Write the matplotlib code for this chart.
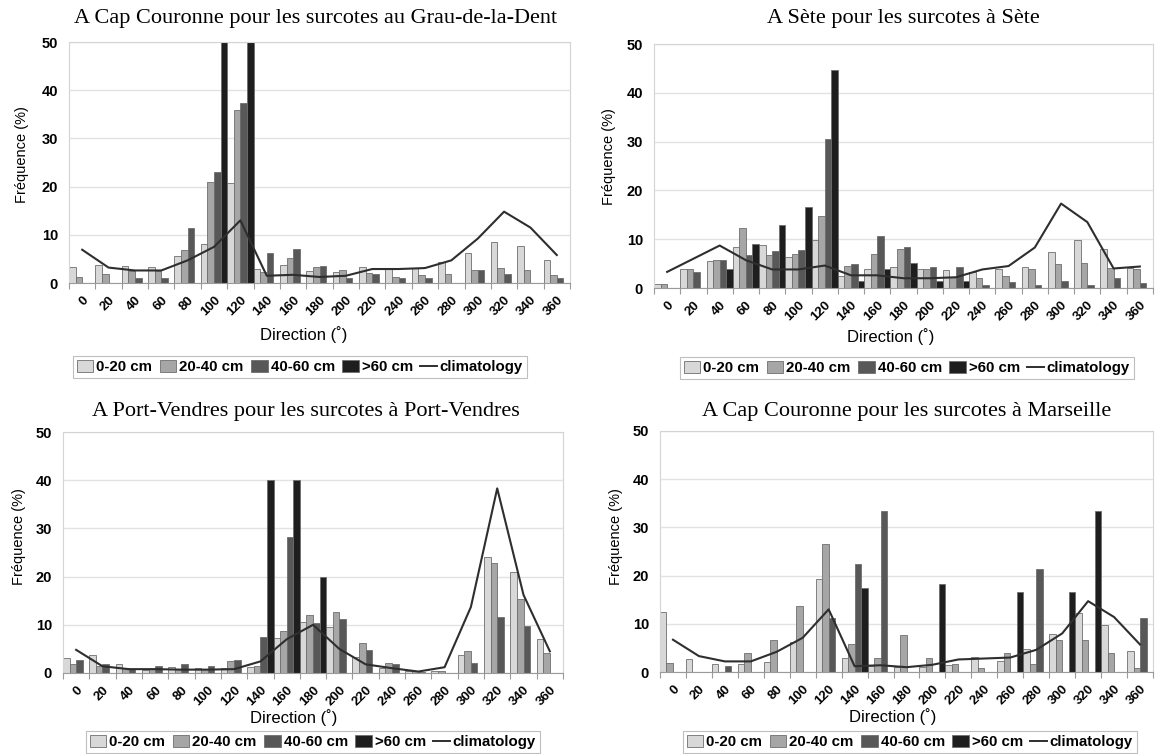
import matplotlib
matplotlib.use('Agg')
import matplotlib.pyplot as plt
import matplotlib.patches as mpatches
from matplotlib.lines import Line2D
import numpy as np

directions = [str(d) for d in range(0, 361, 20)]
classes = ['0-20 cm', '20-40 cm', '40-60 cm', '>60 cm']

# A Cap Couronne / Grau-de-la-Dent
grau_0_20  = [3.3, 3.7, 3.5, 3.3, 5.5, 8.0, 20.8, 3.0, 3.8, 2.4, 2.3, 3.3, 3.1, 3.2, 4.4, 6.3, 8.5, 7.7, 4.7]
grau_20_40 = [1.2, 1.8, 2.5, 2.5, 6.8, 20.9, 35.9, 2.3, 5.2, 3.3, 2.6, 2.1, 1.25, 1.7, 1.9, 2.6, 3.2, 2.6, 1.6]
grau_40_60 = [0, 0, 1.0, 1.0, 11.5, 23.0, 37.3, 6.2, 7.1, 3.5, 1.0, 1.9, 1.0, 1.0, 0, 2.6, 1.9, 0, 1.0]
grau_60    = [0, 0, 0, 0, 0, 55, 55, 0, 0, 0, 0, 0, 0, 0, 0, 0, 0, 0, 0]
grau_clim  = [6.9, 3.2, 2.6, 2.6, 4.7, 7.5, 13.0, 1.5, 1.7, 1.25, 1.5, 2.9, 2.9, 3.1, 4.7, 9.2, 14.8, 11.5, 5.8]

# A Sete / Sete
sete_0_20  = [0.75, 3.9, 5.5, 8.3, 8.75, 6.4, 9.9, 2.4, 3.9, 4.4, 3.9, 3.6, 3.3, 3.8, 4.4, 7.3, 9.9, 7.9, 4.0]
sete_20_40 = [0.75, 3.9, 5.8, 12.3, 6.8, 7.0, 14.7, 4.6, 7.0, 8.0, 3.9, 2.3, 2.0, 2.4, 3.8, 5.0, 5.1, 4.0, 3.8]
sete_40_60 = [0, 3.2, 5.8, 6.7, 7.5, 7.8, 30.6, 4.9, 10.7, 8.3, 4.4, 4.4, 0.7, 1.2, 0.7, 1.4, 0.7, 2.1, 1.0]
sete_60    = [0, 0, 3.9, 9.1, 12.9, 16.6, 44.7, 1.4, 3.9, 5.2, 1.4, 1.4, 0, 0, 0, 0, 0, 0, 0]
sete_clim  = [3.3, 6.0, 8.7, 5.7, 3.8, 3.8, 4.6, 2.6, 2.6, 2.0, 2.0, 2.2, 3.8, 4.5, 8.3, 17.3, 13.5, 4.0, 4.4]

# A Port-Vendres / Port-Vendres
pv_0_20  = [3.2, 3.7, 1.9, 0.7, 1.2, 1.0, 1.0, 1.2, 7.2, 10.5, 9.5, 3.4, 1.0, 0.5, 0.5, 3.7, 24.1, 21.0, 7.1]
pv_20_40 = [1.9, 1.4, 1.0, 0.8, 0.8, 0.8, 2.5, 1.4, 8.8, 12.1, 12.6, 6.3, 2.1, 0.4, 0.5, 4.6, 22.8, 15.4, 4.1]
pv_40_60 = [2.8, 1.9, 0.8, 1.4, 1.9, 1.4, 2.8, 7.4, 28.3, 10.3, 11.2, 4.8, 1.9, 0.3, 0, 2.1, 11.7, 9.7, 0]
pv_60    = [0, 0, 0, 0, 0, 0, 0, 40, 40, 19.9, 0, 0, 0, 0, 0, 0, 0, 0, 0]
pv_clim  = [4.8, 1.4, 0.8, 0.8, 0.7, 0.7, 0.8, 2.4, 7.0, 10.0, 5.0, 1.8, 1.0, 0.3, 1.2, 13.7, 38.3, 16.2, 4.5]

# A Cap Couronne / Marseille
mars_0_20  = [12.5, 2.7, 1.7, 1.6, 2.1, 6.2, 19.3, 2.9, 1.2, 1.0, 1.0, 1.5, 3.2, 2.2, 4.7, 7.8, 12.3, 9.8, 4.3]
mars_20_40 = [1.9, 0, 0, 3.9, 6.7, 13.6, 26.5, 5.8, 2.9, 7.6, 2.9, 1.7, 0.8, 3.9, 1.7, 6.7, 6.7, 3.9, 0.8]
mars_40_60 = [0, 0, 1.2, 0, 0, 0, 11.2, 22.4, 33.4, 0, 0, 0, 0, 0, 21.3, 0, 0, 0, 11.1]
mars_60    = [0, 0, 0, 0, 0, 0, 0, 17.5, 0, 0, 18.2, 0, 0, 16.6, 0, 16.6, 33.4, 0, 0]
mars_clim  = [6.7, 3.3, 2.2, 2.2, 4.2, 7.1, 13.0, 1.2, 1.4, 1.0, 1.5, 2.6, 2.8, 3.0, 4.6, 8.0, 14.7, 11.4, 5.7]

titles = [
    'A Cap Couronne pour les surcotes au Grau-de-la-Dent',
    'A Sète pour les surcotes à Sète',
    'A Port-Vendres pour les surcotes à Port-Vendres',
    'A Cap Couronne pour les surcotes à Marseille',
]

bar_colors = ['#d8d8d8', '#a6a6a6', '#585858', '#1e1e1e']
edge_color = '#6e6e6e'
line_color = '#2e2e2e'
SANS = 'Liberation Sans'
SERIF = 'Liberation Serif'

W, H = 1155, 754
fig = plt.figure(figsize=(W / 100, H / 100), dpi=100)


def px_axes(left, top, right, bottom):
    return fig.add_axes([left / W, 1 - bottom / H, (right - left) / W, (bottom - top) / H])


def draw_panel(ax, series, clim):
    n = len(directions)
    x = np.arange(n)
    for k, vals in enumerate(series):
        ax.bar(x - 0.375 + 0.25 * k, vals, width=0.25, color=bar_colors[k],
               edgecolor=edge_color, linewidth=0.6, zorder=2)
    ax.plot(x, clim, color=line_color, linewidth=1.5, zorder=3)
    ax.set_xlim(-0.5, n - 0.5)
    ax.set_ylim(0, 50)
    ax.set_yticks(range(0, 51, 10))
    ax.set_yticklabels([str(v) for v in range(0, 51, 10)],
                       fontfamily=SANS, fontweight='bold', fontsize=10.5)
    ax.yaxis.grid(True, color='#e2e2e2', linewidth=1.0, zorder=0)
    ax.set_axisbelow(True)
    # boundaries carry small tick marks, labels sit at category centres
    ax.set_xticks(np.arange(n + 1) - 0.5)
    ax.set_xticklabels([])
    ax.tick_params(axis='x', which='major', length=4, color='#9a9a9a', direction='out')
    ax.set_xticks(x, minor=True)
    ax.set_xticklabels(directions, minor=True, rotation=45, ha='right',
                       rotation_mode='anchor', fontfamily=SANS,
                       fontweight='bold', fontsize=9.5)
    ax.tick_params(axis='x', which='minor', length=0, pad=8)
    ax.tick_params(axis='y', length=0, pad=8)
    for side in ['left', 'right', 'top']:
        ax.spines[side].set_color('#d4d4d4')
    ax.spines['bottom'].set_color('#9a9a9a')


panels = [
    ((69, 42, 570, 283), [grau_0_20, grau_20_40, grau_40_60, grau_60], grau_clim),
    ((654, 44, 1153, 288), [sete_0_20, sete_20_40, sete_40_60, sete_60], sete_clim),
    ((63, 432, 563, 673), [pv_0_20, pv_20_40, pv_40_60, pv_60], pv_clim),
    ((660, 431, 1153, 672), [mars_0_20, mars_20_40, mars_40_60, mars_60], mars_clim),
]

title_pos = [(316, 18), (903, 18), (306, 411), (907, 411)]
xlabel_pos = [(304, 335), (891, 337), (294, 718), (893, 717)]
ylabel_pos = [(22, 155), (609, 157), (19, 537), (616, 537)]
legend_pos = [(300, 367), (907, 368), (313, 742), (910, 742)]

handles = [mpatches.Patch(facecolor=c, edgecolor=edge_color, linewidth=0.6, label=l)
           for c, l in zip(bar_colors, classes)]
handles.append(Line2D([0], [0], color=line_color, linewidth=1.4, label='climatology'))

for i, (rect, series, clim) in enumerate(panels):
    ax = px_axes(*rect)
    draw_panel(ax, series, clim)
    tx, ty = title_pos[i]
    fig.text(tx / W, 1 - ty / H, titles[i], ha='center', va='center',
             fontfamily=SERIF, fontsize=16)
    lx, ly = xlabel_pos[i]
    fig.text(lx / W, 1 - ly / H, 'Direction (˚)', ha='center', va='center',
             fontfamily=SANS, fontsize=12)
    yx, yy = ylabel_pos[i]
    fig.text(yx / W, 1 - yy / H, 'Fréquence (%)', ha='center', va='center',
             rotation=90, fontfamily=SANS, fontsize=10.5)
    gx, gy = legend_pos[i]
    leg = fig.legend(handles=handles, loc='center', ncol=5,
                     bbox_to_anchor=(gx / W, 1 - gy / H),
                     prop={'family': SANS, 'weight': 'bold', 'size': 10.8},
                     frameon=True, fancybox=False, edgecolor='#b0b0b0',
                     handlelength=1.1, handleheight=0.8, handletextpad=0.2,
                     columnspacing=0.5, borderpad=0.25, borderaxespad=0)
    leg.get_frame().set_linewidth(0.8)

fig.savefig('out.png', dpi=100)
